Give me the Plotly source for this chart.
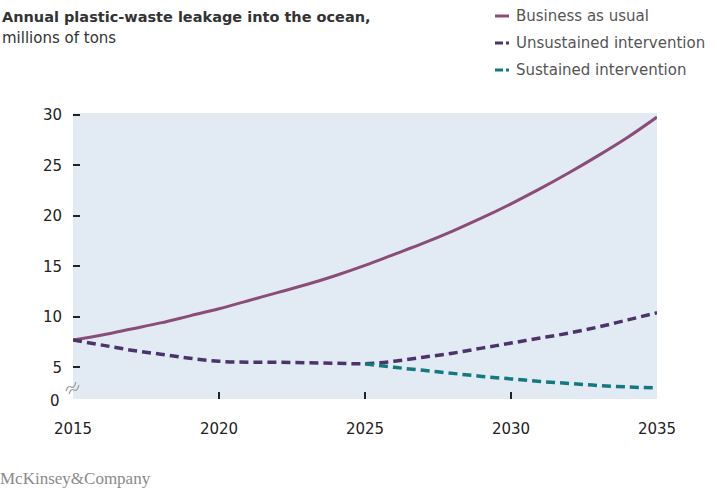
import plotly.graph_objects as go

# ---- data ----
years_bau = [2015, 2016, 2017, 2018, 2019, 2020, 2021, 2022, 2023, 2024, 2025,
             2026, 2027, 2028, 2029, 2030, 2031, 2032, 2033, 2034, 2035]
business_as_usual = [7.7, 8.2, 8.8, 9.4, 10.1, 10.8, 11.6, 12.4, 13.2, 14.1, 15.1,
                     16.2, 17.3, 18.5, 19.8, 21.2, 22.7, 24.3, 26.0, 27.8, 29.8]

years_unsus = years_bau
unsustained = [7.7, 7.2, 6.7, 6.3, 5.9, 5.6, 5.5, 5.5, 5.45, 5.4, 5.35,
               5.6, 6.0, 6.4, 6.9, 7.4, 7.9, 8.4, 9.0, 9.7, 10.4]

years_sus = [2025, 2026, 2027, 2028, 2029, 2030, 2031, 2032, 2033, 2034, 2035]
sustained = [5.35, 5.0, 4.7, 4.4, 4.1, 3.85, 3.6, 3.4, 3.2, 3.05, 2.95]

x_ticks = [2015, 2020, 2025, 2030, 2035]
y_ticks = [5, 10, 15, 20, 25, 30]

series_names = ["Business as usual", "Unsustained intervention", "Sustained intervention"]
colors = ["#8a4d78", "#4b3468", "#13797f"]

title = "Annual plastic-waste leakage into the ocean,"
subtitle = "millions of tons"
source = "McKinsey&Company"

FONT = "DejaVu Sans"

fig = go.Figure()
fig.add_trace(go.Scatter(x=years_bau, y=business_as_usual, mode="lines",
                         line=dict(color=colors[0], width=3, shape="spline"),
                         name=series_names[0], showlegend=False))
fig.add_trace(go.Scatter(x=years_unsus, y=unsustained, mode="lines",
                         line=dict(color=colors[1], width=3.5, dash="9px,5px", shape="spline"),
                         name=series_names[1], showlegend=False))
fig.add_trace(go.Scatter(x=years_sus, y=sustained, mode="lines",
                         line=dict(color=colors[2], width=3.5, dash="9px,5px", shape="spline"),
                         name=series_names[2], showlegend=False))

annotations = [
    dict(text="<b>" + title + "</b>", xref="paper", yref="paper", x=0, y=1,
         xanchor="left", yanchor="middle", xshift=-73, yshift=96, showarrow=False,
         font=dict(family=FONT, size=14.5, color="#333333")),
    dict(text=subtitle, xref="paper", yref="paper", x=0, y=1,
         xanchor="left", yanchor="middle", xshift=-73, yshift=75, showarrow=False,
         font=dict(family=FONT, size=15, color="#333333")),
    dict(text=source, xref="paper", yref="paper", x=0, y=0,
         xanchor="left", yanchor="middle", xshift=-75, yshift=-79, showarrow=False,
         font=dict(family="Liberation Serif", size=17, color="#8a8a8a")),
    dict(text="0", xref="paper", yref="paper", x=0, y=0,
         xanchor="right", yanchor="middle", xshift=-11, yshift=-2, showarrow=False,
         font=dict(family=FONT, size=15, color="#222222")),
]

shapes = []
legend_rows = [97, 70, 43]
dashes = ["solid", "8px,3px", "8px,3px"]
for name, col, yy, dsh in zip(series_names, colors, legend_rows, dashes):
    annotations.append(dict(text=name, xref="paper", yref="paper", x=0, y=1,
                            xanchor="left", yanchor="middle", xshift=441, yshift=yy,
                            showarrow=False,
                            font=dict(family=FONT, size=15, color="#555555")))
    shapes.append(dict(type="line", xref="paper", yref="paper",
                       xsizemode="pixel", ysizemode="pixel", xanchor=0, yanchor=1,
                       x0=422, x1=436, y0=yy, y1=yy,
                       line=dict(color=col, width=3, dash=dsh)))

# axis-break squiggle
for dx, dy in [(0, 0), (3, -3)]:
    p = (f"M{-7+dx},{8+dy} Q{-5+dx},{14+dy} {-2+dx},{12+dy} "
         f"T{3+dx},{17+dy}")
    shapes.append(dict(type="path", xref="paper", yref="paper",
                       xsizemode="pixel", ysizemode="pixel", xanchor=0, yanchor=0,
                       path=p, line=dict(color="#a0a0a0", width=1.2)))

fig.update_layout(
    width=717, height=489,
    margin=dict(l=73, r=60, t=113, b=90),
    paper_bgcolor="white",
    plot_bgcolor="#e2ebf4",
    font=dict(family=FONT, size=15, color="#222222"),
    annotations=annotations,
    shapes=shapes,
    xaxis=dict(range=[2015, 2035], tickvals=x_ticks, ticks="inside", ticklen=7,
               tickwidth=1.5, tickcolor="#222222", showgrid=False, zeroline=False,
               showline=False, ticklabelstandoff=19,
               tickfont=dict(family=FONT, size=15, color="#222222")),
    yaxis=dict(range=[1.86, 30.2], tickvals=y_ticks, ticks="inside", ticklen=7,
               tickwidth=1.5, tickcolor="#222222", showgrid=False, zeroline=False,
               showline=False, ticklabelstandoff=10,
               tickfont=dict(family=FONT, size=15, color="#222222")),
)

fig.write_html(
    "out.html",
    config={"displayModeBar": False},
    post_script="document.body.style.margin='0';document.body.style.overflow='hidden';",
)
